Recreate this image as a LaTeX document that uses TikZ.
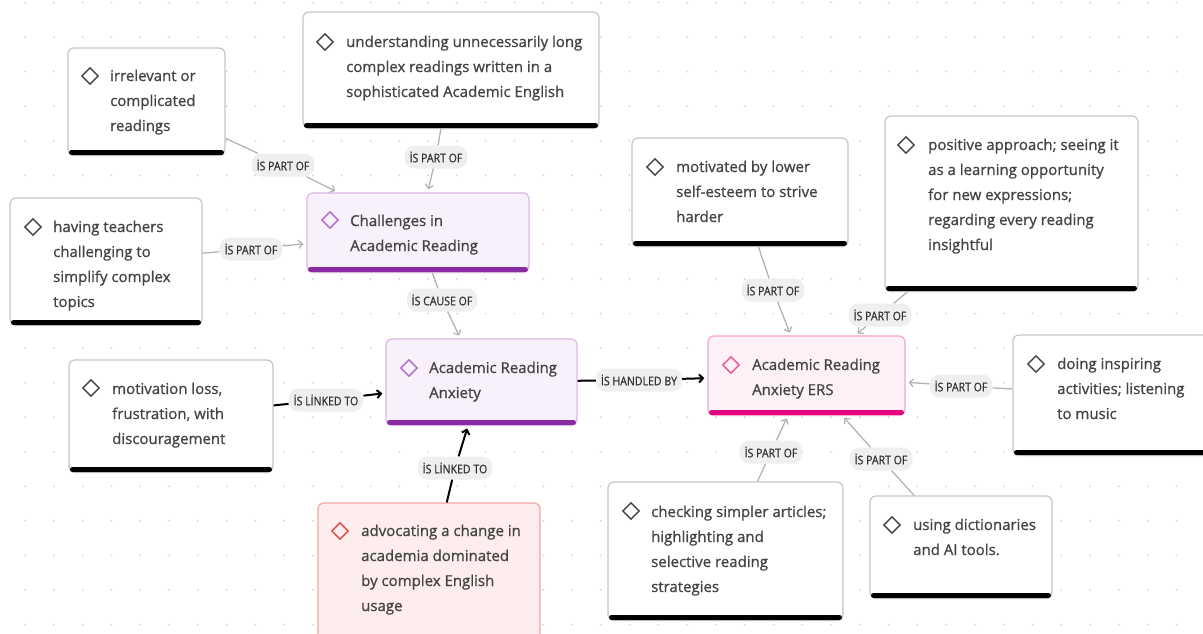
\documentclass[tikz,border=0pt]{standalone}
\usepackage{fontspec}
\setmainfont{Open Sans}[FakeBold=0.9]
\newfontfamily\bodyfont[FakeBold=0.9]{Open Sans}
\newfontfamily\lblfont[FakeStretch=0.88,FakeBold=0.7]{Open Sans}
\usetikzlibrary{arrows.meta,shapes.geometric,shadows}
\definecolor{txt}{HTML}{444444}
\definecolor{lbltxt}{HTML}{333333}
\definecolor{bord}{HTML}{C6C6C6}
\definecolor{dotc}{HTML}{D4D4D4}
\definecolor{lblfill}{HTML}{EFEFEF}
\definecolor{gline}{HTML}{B4B4B4}
\definecolor{purfill}{HTML}{F8F0FA}
\definecolor{purbord}{HTML}{DDB6E8}
\definecolor{purbar}{HTML}{8A2AA5}
\definecolor{purdia}{HTML}{B06CC9}
\definecolor{redfill}{HTML}{FDEDEC}
\definecolor{redbord}{HTML}{F2A6A6}
\definecolor{reddia}{HTML}{E04848}
\definecolor{pinkfill}{HTML}{FDF0F6}
\definecolor{pinkbord}{HTML}{F5A3CF}
\definecolor{pinkbar}{HTML}{E6007E}
\definecolor{pinkdia}{HTML}{E8559A}
\newcommand\cbox[8]{%
  \node[draw=#6, line width=1.2pt, fill=#7, rounded corners=6pt, inner sep=0pt,
        drop shadow={opacity=0.12, shadow xshift=0pt, shadow yshift=-1.5pt},
        minimum width={#4-#2}, minimum height={#5-#3}] (#1) at ({(#2+#4)/2},{(#3+#5)/2}) {};
  \fill[#8, rounded corners=2.5pt] ({#2+1},{#5-5}) rectangle ({#4-1},{#5});
}
\tikzset{
  bodytext/.style={anchor=base west, inner sep=0pt, align=left, text=txt,
    font=\bodyfont\fontsize{15}{25}\selectfont},
  dia/.style={diamond, draw=#1, line width=1.4pt, minimum size=17pt, inner sep=0pt, aspect=1},
  lbl/.style={fill=lblfill, rounded corners=10pt, inner sep=0pt, minimum height=23pt,
    inner xsep=5pt, text=lbltxt, font=\lblfont\fontsize{12}{14}\selectfont},
  gedge/.style={draw=gline, line width=1.3pt},
  garr/.style={gedge, -{Straight Barb[length=4pt,width=8pt]}, shorten >=3pt},
  bedge/.style={draw=black, line width=2pt},
  barr/.style={bedge, -{Straight Barb[length=4pt,width=8pt]}, shorten >=3pt},
}
\begin{document}
\begin{tikzpicture}[x=1pt,y=-1pt]
\useasboundingbox (0,0) rectangle (1203,633);
\fill[white] (0,0) rectangle (1203,633);
% dotted grid
\foreach \i in {0,...,41} {
  \foreach \j in {0,...,18} {
    \fill[dotc] ({25+28.79*\i},{2.6+34.55*\j}) circle (1pt);
  }
}
% boxes
\cbox{irr}{68}{48}{225}{155}{bord}{white}{black}
\cbox{und}{303}{12}{599}{128}{bord}{white}{black}
\cbox{hav}{10}{198}{202}{325}{bord}{white}{black}
\cbox{cha}{307}{193}{529}{272}{purbord}{purfill}{purbar}
\cbox{anx}{386}{339}{577}{425}{purbord}{purfill}{purbar}
\cbox{mot}{69}{360}{273}{472}{bord}{white}{black}
\cbox{adv}{318}{503}{540}{650}{redbord}{redfill}{redfill}
\cbox{mlo}{632}{138}{848}{246}{bord}{white}{black}
\cbox{pos}{885}{116}{1138}{291}{bord}{white}{black}
\cbox{ers}{708}{336}{905}{415}{pinkbord}{pinkfill}{pinkbar}
\cbox{doi}{1013}{335}{1215}{455}{bord}{white}{black}
\cbox{che}{608}{482}{843}{620}{bord}{white}{black}
\cbox{usi}{870}{496}{1052}{598}{bord}{white}{black}
% diamonds
\node[dia=txt] (d1) at (90,76) {};
\node[dia=txt] (d2) at (325,42) {};
\node[dia=txt] (d3) at (33,227) {};
\node[dia=purdia] (d4) at (330,220) {};
\node[dia=purdia] (d5) at (409,368) {};
\node[dia=txt] (d6) at (91,388) {};
\node[dia=reddia] (d7) at (340,531) {};
\node[dia=txt] (d8) at (655,167) {};
\node[dia=txt] (d9) at (906,145) {};
\node[dia=pinkdia] (d10) at (731,365) {};
\node[dia=txt] (d11) at (1036,364) {};
\node[dia=txt] (d12) at (631,511) {};
\node[dia=txt] (d13) at (892,525) {};
% texts (anchored at the baseline of the last line)
\node[bodytext] (t1) at (110,131) {irrelevant or\\complicated\\readings};
\node[bodytext] (t2) at (346,97) {understanding unnecessarily long\\complex readings written in a\\sophisticated Academic English};
\node[bodytext] (t3) at (53,307) {having teachers\\challenging to\\simplify complex\\topics};
\node[bodytext] (t4) at (350,251) {Challenges in\\Academic Reading};
\node[bodytext] (t5) at (429,398) {Academic Reading\\Anxiety};
\node[bodytext] (t6) at (112,444) {motivation loss,\\frustration, with\\discouragement};
\node[bodytext] (t7) at (361,611) {advocating a change in\\academia dominated\\by complex English\\usage};
\node[bodytext] (t8) at (676,222) {motivated by lower\\self-esteem to strive\\harder};
\node[bodytext] (t9) at (928,250) {positive approach; seeing it\\as a learning opportunity\\for new expressions;\\regarding every reading\\insightful};
\node[bodytext] (t10) at (752,395) {Academic Reading\\Anxiety ERS};
\node[bodytext] (t11) at (1057,419) {doing inspiring\\activities; listening\\to music};
\node[bodytext] (t12) at (651,592) {checking simpler articles;\\highlighting and\\selective reading\\strategies};
\node[bodytext] (t13) at (913,555) {using dictionaries\\and AI tools.};
% labels
\node[lbl] (l1) at (283,165) {İS PART OF};
\node[lbl] (l2) at (436,157) {İS PART OF};
\node[lbl] (l3) at (251,249) {İS PART OF};
\node[lbl] (l4) at (442,300) {İS CAUSE OF};
\node[lbl] (l5) at (326,400) {İS LİNKED TO};
\node[lbl] (l6) at (455,468) {İS LİNKED TO};
\node[lbl] (l7) at (639,380) {İS HANDLED BY};
\node[lbl] (l8) at (773,290) {İS PART OF};
\node[lbl] (l9) at (880,315) {İS PART OF};
\node[lbl] (l10) at (961,386) {İS PART OF};
\node[lbl] (l11) at (771,452) {İS PART OF};
\node[lbl] (l12) at (881,459) {İS PART OF};
% edges
\draw[gedge] (irr) -- (l1); \draw[garr] (l1) -- (cha);
\draw[gedge] (und) -- (l2); \draw[garr] (l2) -- (cha);
\draw[gedge] (hav) -- (l3); \draw[garr] (l3) -- (cha);
\draw[gedge] (cha) -- (l4); \draw[garr] (l4) -- (anx);
\draw[bedge] (mot) -- (l5); \draw[barr] (l5) -- (anx);
\draw[bedge] (adv) -- (l6); \draw[barr] (l6) -- (anx);
\draw[bedge] (anx) -- (l7); \draw[barr] (l7) -- (ers);
\draw[gedge] (mlo) -- (l8); \draw[garr] (l8) -- (ers);
\draw[gedge] (pos) -- (l9); \draw[garr] (l9) -- (ers);
\draw[gedge] (doi) -- (l10); \draw[garr] (l10) -- (ers);
\draw[gedge] (che) -- (l11); \draw[garr] (l11) -- (ers);
\draw[gedge] (usi) -- (l12); \draw[garr] (l12) -- (ers);
\end{tikzpicture}
\end{document}
